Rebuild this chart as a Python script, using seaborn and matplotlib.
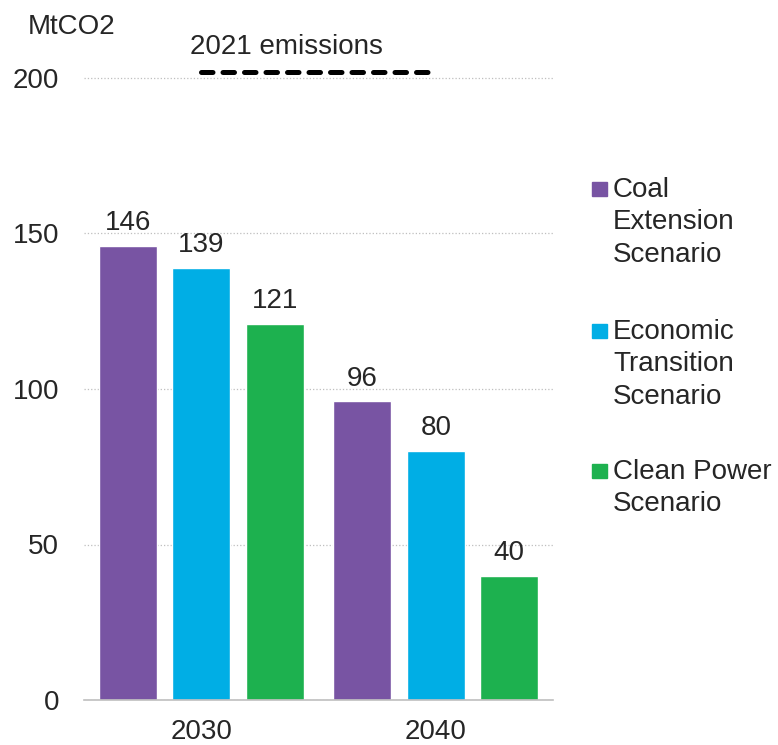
import numpy as np
import matplotlib.pyplot as plt
from matplotlib.patches import Rectangle
from matplotlib.ticker import FixedLocator
import seaborn as sns
import pandas as pd

years = ['2030', '2040']
scenarios = ['Coal\nExtension\nScenario', 'Economic\nTransition\nScenario', 'Clean Power\nScenario']
coal = [146, 96]
economic = [139, 80]
clean = [121, 40]
emissions_2021 = 202
colors = ['#7854A3', '#00AEE5', '#1DB14F']

df = pd.DataFrame({
    'year': years * 3,
    'scenario': [scenarios[0]] * 2 + [scenarios[1]] * 2 + [scenarios[2]] * 2,
    'value': coal + economic + clean,
})

sns.set_style('white')
plt.rcParams['font.family'] = ['Liberation Sans', 'DejaVu Sans']
FS = 20

W, H = 778, 745
fig = plt.figure(figsize=(W / 100, H / 100), dpi=100)
ax = fig.add_axes([84 / W, 1 - 700 / H, 469 / W, (700 - 46.9) / H])

sns.barplot(data=df, x='year', y='value', hue='scenario', order=years, hue_order=scenarios,
            palette=colors, width=0.94, gap=0.21, saturation=1, legend=False, ax=ax)

for c in ax.containers:
    ax.bar_label(c, fmt='%d', padding=7, fontsize=FS)

ax.set_ylim(0, 210)
ax.set_yticks([0, 50, 100, 150, 200])
ax.yaxis.grid(True, linestyle=':', color='#BFBFBF', linewidth=0.9)
ax.set_axisbelow(True)
ax.set_xlim(-0.5, 1.5)
for s in ['top', 'right', 'left']:
    ax.spines[s].set_visible(False)
ax.spines['bottom'].set_color('#BFBFBF')
ax.spines['bottom'].set_linewidth(1.2)
ax.xaxis.set_minor_locator(FixedLocator([-0.5, 0.5, 1.5]))
ax.tick_params(axis='x', which='minor', length=6, color='#BFBFBF', width=1.2, direction='out')
ax.tick_params(axis='x', which='major', length=0, pad=13.5, labelsize=FS)
ax.tick_params(axis='y', length=0, pad=18, labelsize=FS)
ax.set_xlabel('')
ax.set_ylabel('')

# 2021 emissions reference line
ax.plot([0, 1.0], [emissions_2021, emissions_2021], color='black', lw=3.6,
        linestyle=(0, (2.3, 2.0)), dash_capstyle='round', clip_on=False)
fig.text(190 / W, 1 - 47 / H, '2021 emissions', fontsize=FS, va='center', ha='left')
fig.text(28 / W, 1 - 27 / H, 'MtCO2', fontsize=FS, va='center', ha='left')

# legend
tops = [189, 331, 471]
for lab, col, yc in zip(scenarios, colors, tops):
    fig.patches.append(Rectangle((592 / W, 1 - (yc + 7) / H), 15 / W, 14 / H,
                                 transform=fig.transFigure, color=col))
    fig.text(613 / W, 1 - (yc - 12) / H, lab, fontsize=FS, va='top', ha='left', linespacing=1.32)

fig.savefig('out.png', dpi=100)
